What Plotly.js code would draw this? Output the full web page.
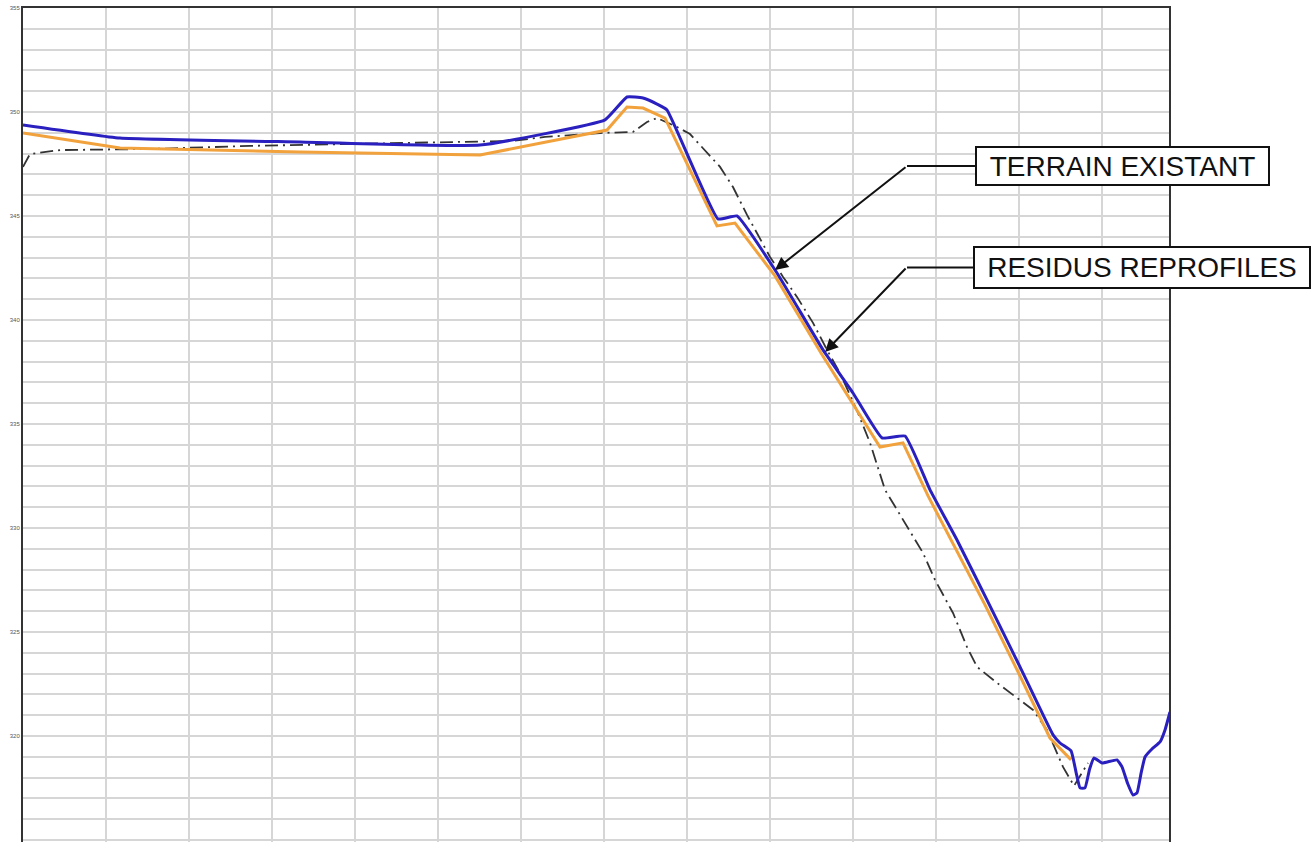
<!DOCTYPE html>
<html>
<head>
<meta charset="utf-8">
<script src="https://cdn.plot.ly/plotly-3.0.1.min.js"></script>
<style>html,body{margin:0;padding:0;background:#fff;}#chart{width:1312px;height:842px;}</style>
</head>
<body>
<div id="chart"></div>
<script>
// Profile distances (m) and elevations (m)
const terrainX = [0, 11.69, 33.37, 55.06, 70.12, 72.77, 74.70, 76.39, 77.59, 83.73, 86.02, 90.84, 96.39, 100.0, 103.49, 106.27, 109.28, 112.53, 116.14, 120.12, 124.10, 124.94, 126.27, 126.9, 127.35, 127.95, 128.5, 129.04, 130.0, 131.81, 132.41, 133.1, 133.73, 134.22, 134.7, 135.18, 136.02, 136.99, 137.6, 138.19];
const terrainY = [349.38, 348.75, 348.56, 348.41, 349.62, 350.72, 350.67, 350.38, 350.10, 344.86, 345.00, 342.26, 338.56, 336.49, 334.33, 334.42, 331.83, 329.42, 326.54, 323.32, 320.05, 319.66, 319.28, 318.2, 317.50, 317.50, 318.4, 318.94, 318.70, 318.85, 318.51, 317.7, 317.16, 317.26, 318.2, 318.99, 319.37, 319.71, 320.3, 321.15];

const residusX = [0, 11.69, 33.37, 55.06, 70.36, 72.77, 74.70, 77.35, 83.61, 85.78, 90.60, 96.14, 103.25, 106.02, 109.04, 115.90, 119.88, 123.73, 126.27];
const residusY = [348.99, 348.27, 348.08, 347.93, 349.13, 350.24, 350.19, 349.71, 344.52, 344.66, 342.12, 338.41, 333.89, 334.09, 331.54, 326.30, 323.08, 319.90, 318.85];

const initialX = [0, 0.84, 4.46, 15.30, 27.35, 39.40, 51.45, 59.04, 62.89, 69.52, 73.49, 75.18, 76.39, 78.80, 80.36, 81.57, 83.98, 85.54, 87.23, 90.0, 91.57, 93.25, 95.18, 96.87, 98.43, 100.60, 102.05, 103.86, 106.51, 108.43, 109.88, 112.05, 113.73, 114.94, 117.35, 120.12, 121.69, 123.37, 125.30, 126.63, 128.31];
const initialY = [347.36, 347.98, 348.17, 348.22, 348.37, 348.46, 348.56, 348.61, 348.80, 348.99, 349.04, 349.52, 349.71, 349.28, 348.94, 348.41, 347.36, 346.39, 345.05, 343.03, 342.07, 341.11, 339.86, 338.56, 337.45, 335.53, 334.09, 331.83, 330.05, 328.80, 327.50, 325.91, 324.28, 323.32, 322.55, 321.73, 321.25, 320.29, 318.51, 317.60, 318.70];

const yTickVals = [355, 350, 345, 340, 335, 330, 325, 320];
const yTickText = ['355', '350', '345', '340', '335', '330', '325', '320'];

const labelTerrain = 'TERRAIN EXISTANT';
const labelResidus = 'RESIDUS REPROFILES';

const traces = [
  {x: initialX, y: initialY, mode: 'lines', line: {color: '#333333', width: 1.8, dash: '13px,5px,2px,5px'}, hoverinfo: 'skip'},
  {x: residusX, y: residusY, mode: 'lines', line: {color: '#f2a23c', width: 3}, hoverinfo: 'skip'},
  {x: terrainX, y: terrainY, mode: 'lines', line: {color: '#2a1fbf', width: 3, shape: 'spline', smoothing: 0.35}, hoverinfo: 'skip'}
];

const gridCol = '#d6d6d6';
const layout = {
  width: 1312, height: 842,
  margin: {l: 23, r: 143, t: 8, b: 0},
  paper_bgcolor: '#fff', plot_bgcolor: '#fff',
  showlegend: false,
  xaxis: {
    range: [0, 138.07], side: 'top', dtick: 10, tick0: 0,
    showgrid: true, gridcolor: gridCol, gridwidth: 2,
    showline: true, linecolor: '#333', linewidth: 2,
    showticklabels: false, ticks: '', zeroline: false
  },
  yaxis: {
    range: [314.9, 355], tickvals: yTickVals, ticktext: yTickText,
    showgrid: true, gridcolor: gridCol, gridwidth: 2,
    minor: {dtick: 1, showgrid: true, gridcolor: gridCol, gridwidth: 2, ticks: ''},
    showline: true, mirror: true, linecolor: '#333', linewidth: 2,
    ticks: '', zeroline: false,
    tickfont: {family: 'Liberation Sans, Arial, sans-serif', size: 6, color: '#555'}
  },
  shapes: [
    {type: 'line', xref: 'paper', yref: 'paper', x0: 0.7714, x1: 0.8307, y0: 0.8106, y1: 0.8106, line: {color: '#111', width: 2}},
    {type: 'line', xref: 'paper', yref: 'paper', x0: 0.7714, x1: 0.8290, y0: 0.6888, y1: 0.6888, line: {color: '#111', width: 2}}
  ],
  annotations: [
    {xref: 'paper', yref: 'paper', x: 0.8307, y: 0.8106, xanchor: 'left', yanchor: 'middle',
     text: labelTerrain, showarrow: false, width: 289, height: 34, align: 'center',
     font: {family: 'Liberation Sans, Arial, sans-serif', size: 28, color: '#111'},
     bordercolor: '#111', borderwidth: 2, borderpad: 1, bgcolor: '#fff'},
    {xref: 'paper', yref: 'paper', x: 0.8290, y: 0.6888, xanchor: 'left', yanchor: 'middle',
     text: labelResidus, showarrow: false, width: 332, height: 37, align: 'center',
     font: {family: 'Liberation Sans, Arial, sans-serif', size: 28, color: '#111'},
     bordercolor: '#111', borderwidth: 2, borderpad: 1, bgcolor: '#fff'},
    {xref: 'x', yref: 'y', x: 90.60, y: 342.40, text: '', showarrow: true, ax: 132, ay: -104,
     arrowhead: 2, arrowsize: 1.3, arrowwidth: 2, arrowcolor: '#111', standoff: 0},
    {xref: 'x', yref: 'y', x: 96.63, y: 338.46, text: '', showarrow: true, ax: 82, ay: -85,
     arrowhead: 2, arrowsize: 1.3, arrowwidth: 2, arrowcolor: '#111', standoff: 0}
  ]
};

Plotly.newPlot('chart', traces, layout, {staticPlot: true, displayModeBar: false});
</script>
</body>
</html>
